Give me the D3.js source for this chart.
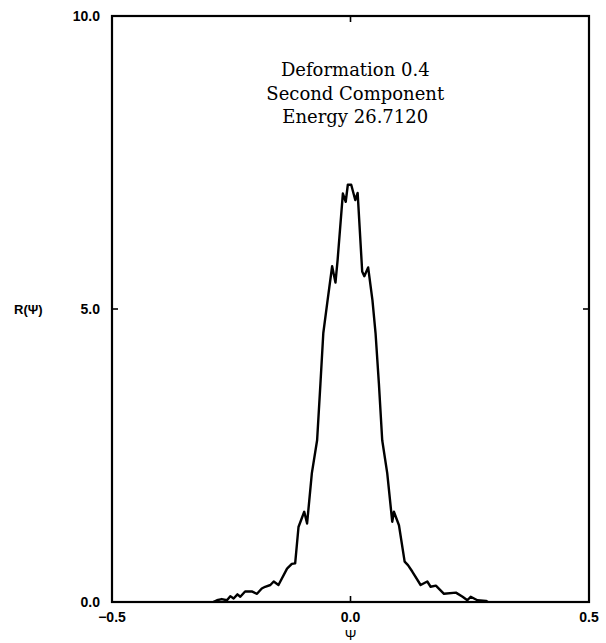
<!DOCTYPE html>
<html>
<head>
<meta charset="utf-8">
<script src="https://cdn.jsdelivr.net/npm/d3@7"></script>
<style>
  body { margin: 0; background: #fff; }
  svg { display: block; }
</style>
</head>
<body>
<div id="chart"></div>
<script>
// psi values (x) and R(psi) values
const psi = [-0.288, -0.280, -0.270, -0.259, -0.252, -0.245, -0.237, -0.231, -0.221, -0.207,
  -0.196, -0.186, -0.179, -0.168, -0.161, -0.151, -0.133, -0.123, -0.116, -0.109,
  -0.097, -0.091, -0.081, -0.070, -0.063, -0.057, -0.048, -0.0385, -0.0315, -0.027,
  -0.016, -0.010, -0.0056, 0.0015, 0.010, 0.015, 0.0245, 0.029, 0.037, 0.046,
  0.0525, 0.0595, 0.0665, 0.077, 0.0875, 0.091, 0.1016, 0.1135, 0.1205, 0.1295,
  0.147, 0.161, 0.168, 0.179, 0.196, 0.221, 0.235, 0.245, 0.252, 0.266,
  0.284, 0.288];
const rpsi = [0.0, 0.03, 0.05, 0.03, 0.10, 0.06, 0.13, 0.09, 0.18, 0.18,
  0.14, 0.23, 0.26, 0.29, 0.35, 0.29, 0.57, 0.65, 0.66, 1.28,
  1.54, 1.34, 2.20, 2.76, 3.73, 4.59, 5.15, 5.73, 5.45, 5.84,
  6.97, 6.83, 7.12, 7.12, 6.86, 6.98, 5.64, 5.56, 5.71, 5.15,
  4.59, 3.73, 2.76, 2.20, 1.37, 1.54, 1.31, 0.69, 0.63, 0.52,
  0.29, 0.35, 0.26, 0.28, 0.14, 0.16, 0.09, 0.03, 0.09, 0.03,
  0.02, 0.0];

const xTicks = [-0.5, 0.0, 0.5];
const yTicks = [0, 5, 10];
const notes = ["Deformation 0.4", "Second Component", "Energy 26.7120"];

const W = 606, H = 643;
const margin = {top: 16, right: 17, bottom: 41, left: 112};
const width = W - margin.left - margin.right;
const height = H - margin.top - margin.bottom;

const svg = d3.select("#chart").append("svg")
    .attr("width", W)
    .attr("height", H);

const g = svg.append("g")
    .attr("transform", `translate(${margin.left},${margin.top})`);

const x = d3.scaleLinear().domain([-0.5, 0.5]).range([0, width]);
const y = d3.scaleLinear().domain([0, 10]).range([height, 0]);

// frame
g.append("rect")
    .attr("width", width)
    .attr("height", height)
    .attr("fill", "none")
    .attr("stroke", "#000")
    .attr("stroke-width", 2.2);

// inward ticks on all four sides
const tickLen = 6;
const tk = g.append("g").attr("stroke", "#000").attr("stroke-width", 1.6);
tk.selectAll(".xb").data(xTicks.slice(1, -1)).enter().append("line")
    .attr("x1", d => x(d)).attr("x2", d => x(d))
    .attr("y1", height).attr("y2", height - tickLen);
tk.selectAll(".xt").data(xTicks.slice(1, -1)).enter().append("line")
    .attr("x1", d => x(d)).attr("x2", d => x(d))
    .attr("y1", 0).attr("y2", tickLen);
tk.selectAll(".yl").data(yTicks.slice(1, -1)).enter().append("line")
    .attr("y1", d => y(d)).attr("y2", d => y(d))
    .attr("x1", 0).attr("x2", tickLen);
tk.selectAll(".yr").data(yTicks.slice(1, -1)).enter().append("line")
    .attr("y1", d => y(d)).attr("y2", d => y(d))
    .attr("x1", width).attr("x2", width - tickLen);

// tick labels
const lab = g.append("g")
    .attr("font-family", "Liberation Sans, Arial, sans-serif")
    .attr("font-weight", "bold")
    .attr("font-size", 14);
lab.selectAll(".xl").data(xTicks).enter().append("text")
    .attr("x", d => x(d))
    .attr("y", height + 20)
    .attr("text-anchor", "middle")
    .text(d => d3.format(".1f")(d));
lab.selectAll(".ylab").data(yTicks).enter().append("text")
    .attr("x", -12)
    .attr("y", d => y(d))
    .attr("dy", "0.35em")
    .attr("text-anchor", "end")
    .text(d => d3.format(".1f")(d));

// axis titles
g.append("text")
    .attr("x", x(0))
    .attr("y", height + 38)
    .attr("text-anchor", "middle")
    .attr("font-family", "Liberation Sans, Arial, sans-serif")
    .attr("font-size", 14)
    .text("Ψ");
svg.append("text")
    .attr("x", 14)
    .attr("y", margin.top + y(5))
    .attr("dy", "0.35em")
    .attr("font-family", "Liberation Sans, Arial, sans-serif")
    .attr("font-weight", "bold")
    .attr("font-size", 13)
    .text("R(Ψ)");

// curve
const line = d3.line()
    .x((d, i) => x(psi[i]))
    .y((d, i) => y(rpsi[i]));
g.append("path")
    .datum(psi)
    .attr("d", line)
    .attr("fill", "none")
    .attr("stroke", "#000")
    .attr("stroke-width", 2.4)
    .attr("stroke-linejoin", "round");

// annotation
g.append("g")
    .attr("font-family", "DejaVu Serif, serif")
    .attr("font-size", 18)
    .attr("text-anchor", "middle")
  .selectAll("text").data(notes).enter().append("text")
    .attr("x", x(0.01))
    .attr("y", (d, i) => 60 + i * 23.5)
    .text(d => d);
</script>
</body>
</html>
